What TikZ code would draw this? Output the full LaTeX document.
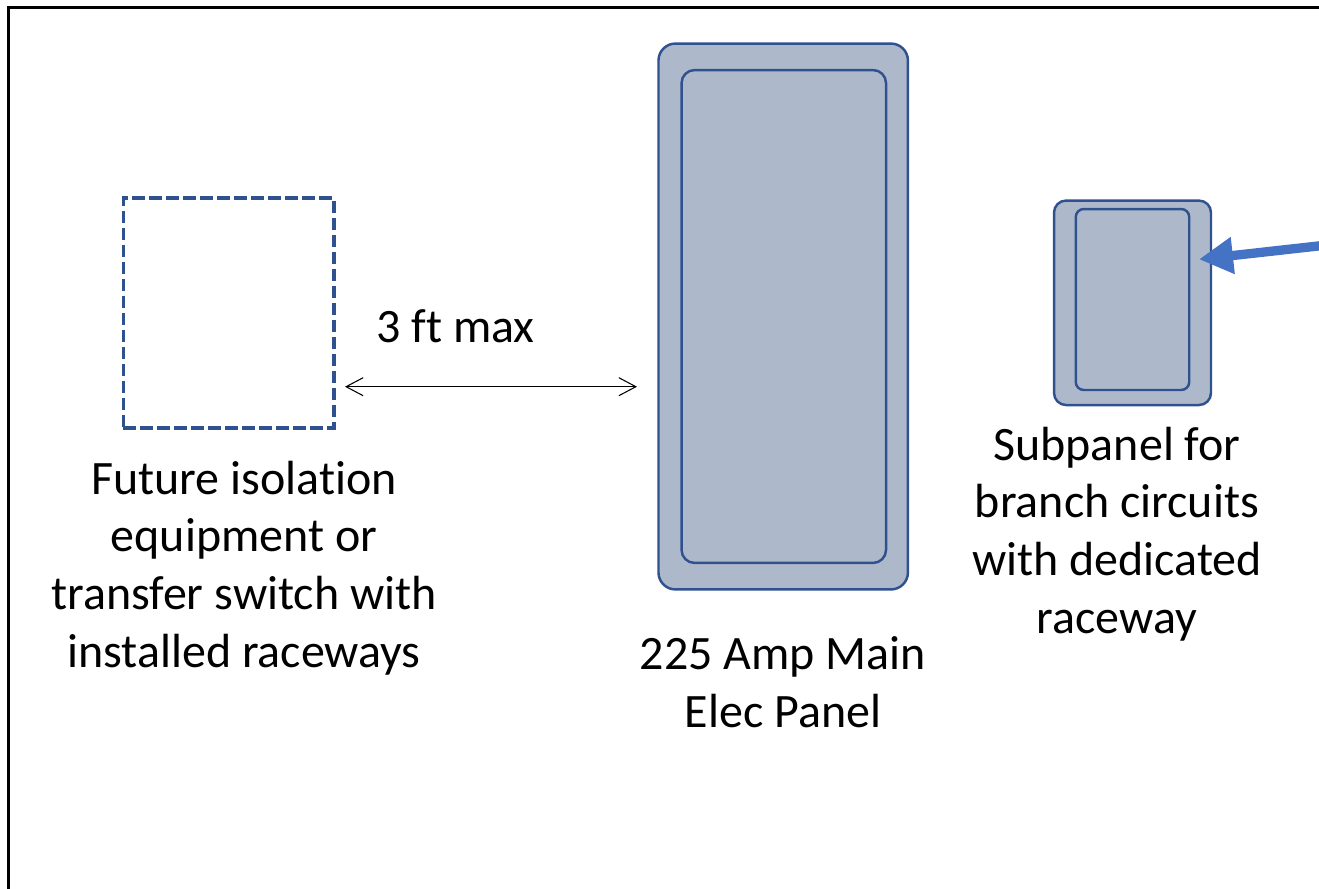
\documentclass[tikz,border=0pt]{standalone}
\usepackage{fontspec}
\setmainfont{Carlito}[Ligatures=NoCommon]
\usetikzlibrary{arrows.meta}

\definecolor{panelline}{HTML}{2F528F}
\definecolor{panelfill}{HTML}{ADB9CA}
\definecolor{arrowblue}{HTML}{4472C4}

\begin{document}
\begin{tikzpicture}[x=0.02cm, y=-0.02cm,
    panel/.style={draw=panelline, fill=panelfill, line width=1.4pt, inner sep=0pt},
    label/.style={align=center, font=\fontsize{27.3}{32.8}\selectfont, inner sep=0pt}]

  \useasboundingbox (0,0) rectangle (1319,889);

  % Frame (left and top edges only are in view)
  \draw[line width=1.7pt, black] (8.5,900) -- (8.5,7.5) -- (1340,7.5);

  % Future equipment (dashed outline)
  \node[draw=panelline, line width=2.1pt, dash pattern=on 0.25cm off 0.09cm,
        minimum width=4.21cm, minimum height=4.59cm, inner sep=0pt] (future) at (228.7,313) {};

  % Main panel
  \node[panel, rounded corners=0.34cm, minimum width=4.99cm, minimum height=10.92cm] (main) at (783.2,316.5) {};
  \node[panel, rounded corners=0.26cm, minimum width=4.09cm, minimum height=9.86cm] (maininner) at (783.8,316.5) {};

  % Subpanel
  \node[panel, rounded corners=0.24cm, minimum width=3.14cm, minimum height=4.09cm] (sub) at (1132.5,302.8) {};
  \node[panel, rounded corners=0.16cm, minimum width=2.27cm, minimum height=3.62cm] (subinner) at (1132.5,299.5) {};

  % Distance arrow
  \coordinate (distL) at (345,386.7);
  \coordinate (distR) at (637,386.7);
  \draw[{Straight Barb[length=0.34cm, width=0.36cm]}-{Straight Barb[length=0.34cm, width=0.36cm]}, line width=0.6pt]
    (distL) -- (distR);
  \node[label, anchor=base] (dist) at (455.5,342) {3 ft max};

  % Pointer arrow into subpanel
  \coordinate (ptrstart) at (1345,243);
  \coordinate (ptrtip) at (1199,259.3);
  \draw[-{Triangle[length=0.68cm, width=0.7cm]}, arrowblue, line width=5.3pt] (ptrstart) -- (ptrtip);

  % Labels (base anchor sits on the last line)
  \node[label, anchor=base] (futurelbl) at (244,667)
    {Future isolation\\equipment or\\transfer switch with\\installed raceways};
  \node[label, anchor=base] (mainlbl) at (783,727)
    {225 Amp Main\\Elec Panel};
  \node[label, anchor=base] (sublbl) at (1117,633)
    {Subpanel for\\branch circuits\\with dedicated\\raceway};

\end{tikzpicture}
\end{document}
